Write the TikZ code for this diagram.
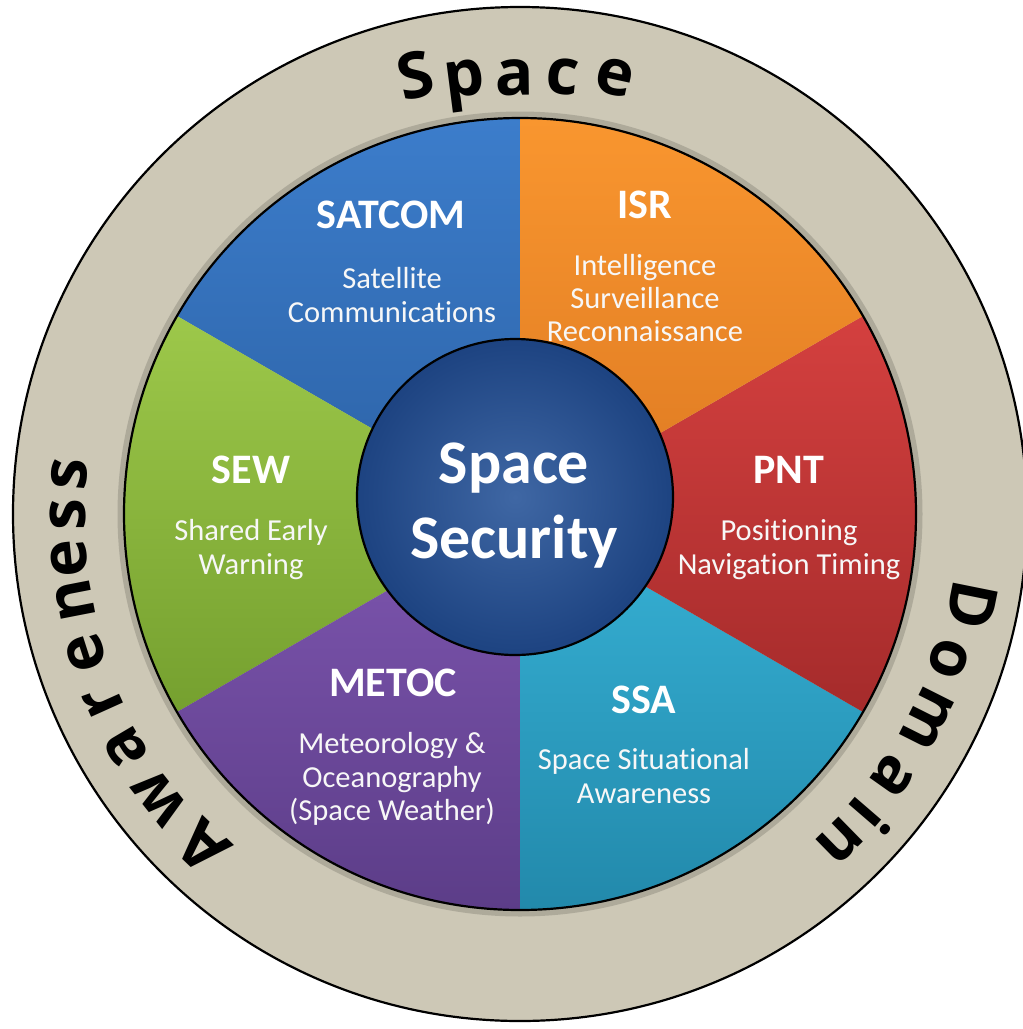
\documentclass[tikz,border=0pt]{standalone}
\usepackage{fontspec}
\setmainfont{Carlito}[Ligatures={NoCommon}]
\newfontfamily\ringfont{Open Sans}
\usetikzlibrary{calc}
\definecolor{ringlight}{HTML}{CDC8B6}
\definecolor{ringdark}{HTML}{B0AB9A}
\definecolor{satcomT}{HTML}{3C7DCB}
\definecolor{satcomB}{HTML}{2C62A6}
\definecolor{isrT}{HTML}{F9962F}
\definecolor{isrB}{HTML}{DE7A22}
\definecolor{pntT}{HTML}{D4403F}
\definecolor{pntB}{HTML}{A52B2B}
\definecolor{ssaT}{HTML}{37B2D6}
\definecolor{ssaB}{HTML}{2289AB}
\definecolor{metocT}{HTML}{7E56B0}
\definecolor{metocB}{HTML}{5C3D88}
\definecolor{sewT}{HTML}{9DC84A}
\definecolor{sewB}{HTML}{75A02F}
\definecolor{coreIn}{HTML}{3F67A4}
\definecolor{coreOut}{HTML}{1D4381}
\pgfdeclareradialshading{ringshade}{\pgfpoint{0bp}{0bp}}{color(0bp)=(ringlight); color(38bp)=(ringlight); color(44bp)=(ringlight!92!ringdark); color(50bp)=(ringdark)}
\begin{document}
\begin{tikzpicture}[x=1pt,y=1pt,
  title/.style={text=white, font=\bfseries\fontsize{42}{50}\selectfont, anchor=base, inner sep=0pt},
  desc/.style={text=white!94!gray, font=\fontsize{30.5}{36}\selectfont, anchor=base, inner sep=0pt},
  core/.style={text=white, font=\bfseries\fontsize{62}{75}\selectfont, anchor=base, inner sep=0pt},
  ringletter/.style={font=\ringfont\bfseries\fontsize{64}{76}\selectfont, anchor=base, inner sep=0pt, text=black},
  rim/.style={line width=2.2pt, draw=black},
]
\useasboundingbox (0,0) rectangle (1023,-1029);
\clip (0,0) rectangle (1023,-1029);
\fill[white] (0,0) rectangle (1023,-1029);
\coordinate (C) at (520,-514);
\coordinate (M) at (515,-497);
% outer ring
\shade[shading=ringshade] (C) circle (507);
\draw[rim] (C) circle (507);
% soft shadow of the pie on the ring
\draw[black, opacity=0.15, line width=7pt] (C) circle (399);
% sectors
\shade[top color=satcomT, bottom color=satcomB] (C) -- ++(90:396) arc[start angle=90, end angle=150, radius=396] -- cycle;
\shade[top color=sewT, bottom color=sewB] (C) -- ++(150:396) arc[start angle=150, end angle=210, radius=396] -- cycle;
\shade[top color=metocT, bottom color=metocB] (C) -- ++(210:396) arc[start angle=210, end angle=270, radius=396] -- cycle;
\shade[top color=ssaT, bottom color=ssaB] (C) -- ++(270:396) arc[start angle=270, end angle=330, radius=396] -- cycle;
\shade[top color=pntT, bottom color=pntB] (C) -- ++(330:396) arc[start angle=330, end angle=390, radius=396] -- cycle;
\shade[top color=isrT, bottom color=isrB] (C) -- ++(30:396) arc[start angle=30, end angle=90, radius=396] -- cycle;
\draw[rim] (C) circle (396);
% centre disc
\shade[inner color=coreIn, outer color=coreOut] (M) circle (158);
\draw[rim] (M) circle (158);
\node[core] (core1) at (514,-483) {Space};
\node[core] (core2) at (514,-558) {Security};
% sector labels
\node[title] (satcom) at (391,-228) {SATCOM};
\node[desc] (satcom1) at (392,-288) {Satellite};
\node[desc] (satcom2) at (392,-322) {Communications};
\node[title] (isr) at (645,-218) {ISR};
\node[desc] (isr1) at (645,-275) {Intelligence};
\node[desc] (isr2) at (645,-308) {Surveillance};
\node[desc] (isr3) at (645,-341) {Reconnaissance};
\node[title] (sew) at (251,-483) {SEW};
\node[desc] (sew1) at (251,-540) {Shared Early};
\node[desc] (sew2) at (251,-574) {Warning};
\node[title] (pnt) at (789,-483) {PNT};
\node[desc] (pnt1) at (789,-540) {Positioning};
\node[desc] (pnt2) at (789,-574) {Navigation Timing};
\node[title] (metoc) at (393,-696) {METOC};
\node[desc] (metoc1) at (392,-753) {Meteorology \&};
\node[desc] (metoc2) at (392,-787) {Oceanography};
\node[desc] (metoc3) at (392,-820) {(Space Weather)};
\node[title] (ssa) at (644,-713) {SSA};
\node[desc] (ssa1) at (644,-769) {Space Situational};
\node[desc] (ssa2) at (644,-803) {Awareness};
% ring lettering: Space
\node[ringletter, rotate=13.4] (t1) at ($(C)+(103.4:428)$) {S};
\node[ringletter, rotate=7.3] (t2) at ($(C)+(97.3:422)$) {p};
\node[ringletter, rotate=0.7] (t3) at ($(C)+(90.7:419)$) {a};
\node[ringletter, rotate=-5.6] (t4) at ($(C)+(84.4:422)$) {c};
\node[ringletter, rotate=-12.2] (t5) at ($(C)+(77.8:429)$) {e};
% Domain
\node[ringletter, rotate=-101.4] (d1) at ($(C)+(-11.4:438)$) {D};
\node[ringletter, rotate=-108.7] (d2) at ($(C)+(-18.7:435)$) {o};
\node[ringletter, rotate=-116.7] (d3) at ($(C)+(-26.7:438)$) {m};
\node[ringletter, rotate=-125.2] (d4) at ($(C)+(-35.2:438)$) {a};
\node[ringletter, rotate=-130.8] (d5) at ($(C)+(-40.8:439)$) {i};
\node[ringletter, rotate=-135.6] (d6) at ($(C)+(-45.6:440)$) {n};
% Awareness
\node[ringletter, rotate=136.3] (a1) at ($(C)+(226.3:437)$) {A};
\node[ringletter, rotate=128.2] (a2) at ($(C)+(218.2:441)$) {w};
\node[ringletter, rotate=120.6] (a3) at ($(C)+(210.6:441)$) {a};
\node[ringletter, rotate=114.3] (a4) at ($(C)+(204.3:439)$) {r};
\node[ringletter, rotate=107.8] (a5) at ($(C)+(197.8:438)$) {e};
\node[ringletter, rotate=101] (a6) at ($(C)+(191:436)$) {n};
\node[ringletter, rotate=95.6] (a7) at ($(C)+(185.6:435)$) {e};
\node[ringletter, rotate=90.1] (a8) at ($(C)+(180.1:435)$) {s};
\node[ringletter, rotate=85] (a9) at ($(C)+(175:435)$) {s};
\end{tikzpicture}
\end{document}
